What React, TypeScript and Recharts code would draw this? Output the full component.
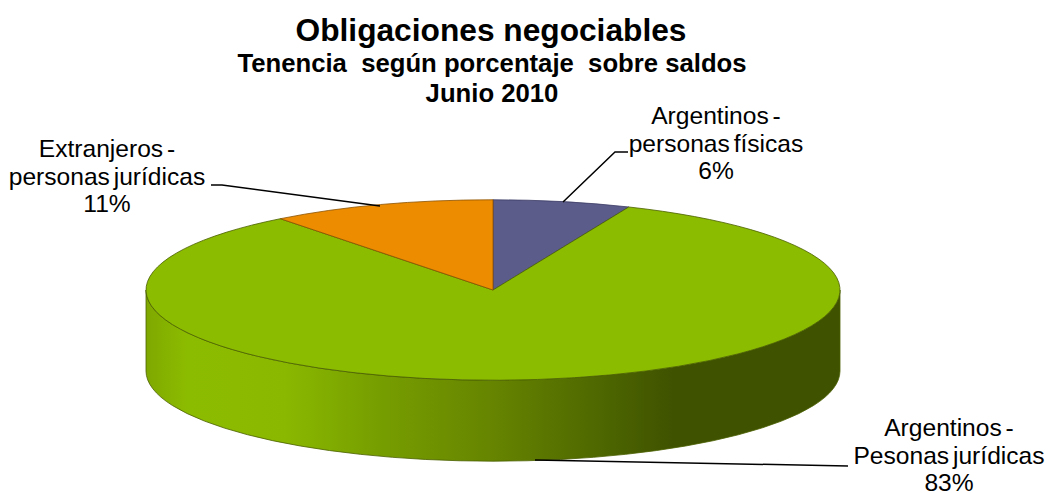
import React from 'react';
import { PieChart, Pie, Cell } from 'recharts';

const titleLines = ['Obligaciones negociables', 'Tenencia  según porcentaje  sobre saldos', 'Junio 2010'];
const categories = ['Argentinos - personas físicas', 'Argentinos - Pesonas jurídicas', 'Extranjeros - personas jurídicas'];
const shares = [6.4, 83.1, 10.5];
const labelFirstLines = ['Argentinos -', 'Argentinos -', 'Extranjeros -'];
const labelSecondLines = ['personas físicas', 'Pesonas jurídicas', 'personas jurídicas'];
const topColors = ['#5c5c8a', '#8cbc00', '#ee8c00'];
const edgeColors = ['#3c3c66', '#4a6000', '#8a5200'];

const data = categories.map((name, i) => ({ name, value: shares[i] }));

const FONT = '"Liberation Sans", Arial, sans-serif';
const SQUASH = 0.26; // ellipse height / width of the tilted disc
const DEPTH = 81;

// where the three labels sit and how their leader lines run
const labelCenters = [[716, 124], [949, 436], [107, 157]];
const leaderLines = [
  '563,202 615,152 628,152',
  '535,460 848,466',
  '380,206 222,185 211,185',
];

const rad = (deg: number) => (deg * Math.PI) / 180;

const point = (cx: number, cy: number, r: number, deg: number, dy = 0) =>
  `${cx + r * Math.cos(rad(deg))} ${cy - r * SQUASH * Math.sin(rad(deg)) + dy}`;

// top face of a slice, the disc squashed vertically
const TopSlice = (props: any) => {
  const { cx, cy, outerRadius: r, startAngle, endAngle, index } = props;
  const large = Math.abs(startAngle - endAngle) > 180 ? 1 : 0;
  const d = `M ${cx} ${cy} L ${point(cx, cy, r, startAngle)} A ${r} ${r * SQUASH} 0 ${large} 1 ${point(cx, cy, r, endAngle)} Z`;
  return <path d={d} fill={topColors[index]} stroke={edgeColors[index]} strokeWidth={0.8} />;
};

// front wall, only the part of a slice between -180 and 0 degrees can be seen
const WallSlice = (props: any) => {
  const { cx, cy, outerRadius: r, startAngle, endAngle } = props;
  const from = Math.min(startAngle, 0);
  const to = Math.max(endAngle, -180);
  if (from <= to) return <g />;
  const rx = r;
  const ry = r * SQUASH;
  const d = `M ${point(cx, cy, r, from)} A ${rx} ${ry} 0 0 1 ${point(cx, cy, r, to)} L ${point(cx, cy, r, to, DEPTH)} A ${rx} ${ry} 0 0 0 ${point(cx, cy, r, from, DEPTH)} Z`;
  return <path d={d} fill="url(#wallShade)" stroke="#4a6000" strokeWidth={0.8} />;
};

const renderLabel = (props: any) => {
  const { index, value } = props;
  const [x, y] = labelCenters[index];
  const lines = [labelFirstLines[index], labelSecondLines[index], `${Math.round(value)}%`];
  return (
    <g key={index}>
      {lines.map((line, i) => (
        <text key={i} x={x} y={y + i * 27.6} textAnchor="middle" fontFamily={FONT} fontSize={24.6} wordSpacing={-3} fill="#000">
          {line}
        </text>
      ))}
    </g>
  );
};

const renderLeader = (props: any) => (
  <polyline key={props.index} points={leaderLines[props.index]} fill="none" stroke="#000" strokeWidth={1.5} />
);

const App: React.FC = () => {
  return (
    <div style={{ position: 'absolute', left: 0, top: 0, width: 1048, height: 493, background: '#fff', overflow: 'hidden' }}>
      <PieChart width={1048} height={493} margin={{ top: 0, right: 0, bottom: 0, left: 0 }}>
        <defs>
          <linearGradient id="wallShade" x1="0" y1="0" x2="1" y2="0">
            <stop offset="0" stopColor="#7fa800" />
            <stop offset="0.06" stopColor="#8cbc00" />
            <stop offset="0.2" stopColor="#8ab800" />
            <stop offset="0.33" stopColor="#779f00" />
            <stop offset="0.5" stopColor="#668400" />
            <stop offset="0.65" stopColor="#4f6800" />
            <stop offset="0.76" stopColor="#3f5200" />
            <stop offset="1" stopColor="#3f5200" />
          </linearGradient>
        </defs>
        <text x={491} y={41} textAnchor="middle" fontFamily={FONT} fontWeight="bold" fontSize={31.7} fill="#000">
          {titleLines[0]}
        </text>
        <text x={492} y={72} textAnchor="middle" fontFamily={FONT} fontWeight="bold" fontSize={25.7} fill="#000" style={{ whiteSpace: 'pre' }}>
          {titleLines[1]}
        </text>
        <text x={492} y={101.5} textAnchor="middle" fontFamily={FONT} fontWeight="bold" fontSize={25.7} fill="#000">
          {titleLines[2]}
        </text>
        <Pie
          data={data}
          dataKey="value"
          cx={493}
          cy={290}
          outerRadius={347}
          startAngle={90}
          endAngle={-270}
          paddingAngle={0}
          stroke="none"
          shape={WallSlice}
          isAnimationActive={false}
        />
        <Pie
          data={data}
          dataKey="value"
          cx={493}
          cy={290}
          outerRadius={347}
          startAngle={90}
          endAngle={-270}
          paddingAngle={0}
          shape={TopSlice}
          label={renderLabel}
          labelLine={renderLeader}
          isAnimationActive={false}
        >
          {data.map((entry, i) => (
            <Cell key={entry.name} fill={topColors[i]} />
          ))}
        </Pie>
      </PieChart>
    </div>
  );
};

export default App;
